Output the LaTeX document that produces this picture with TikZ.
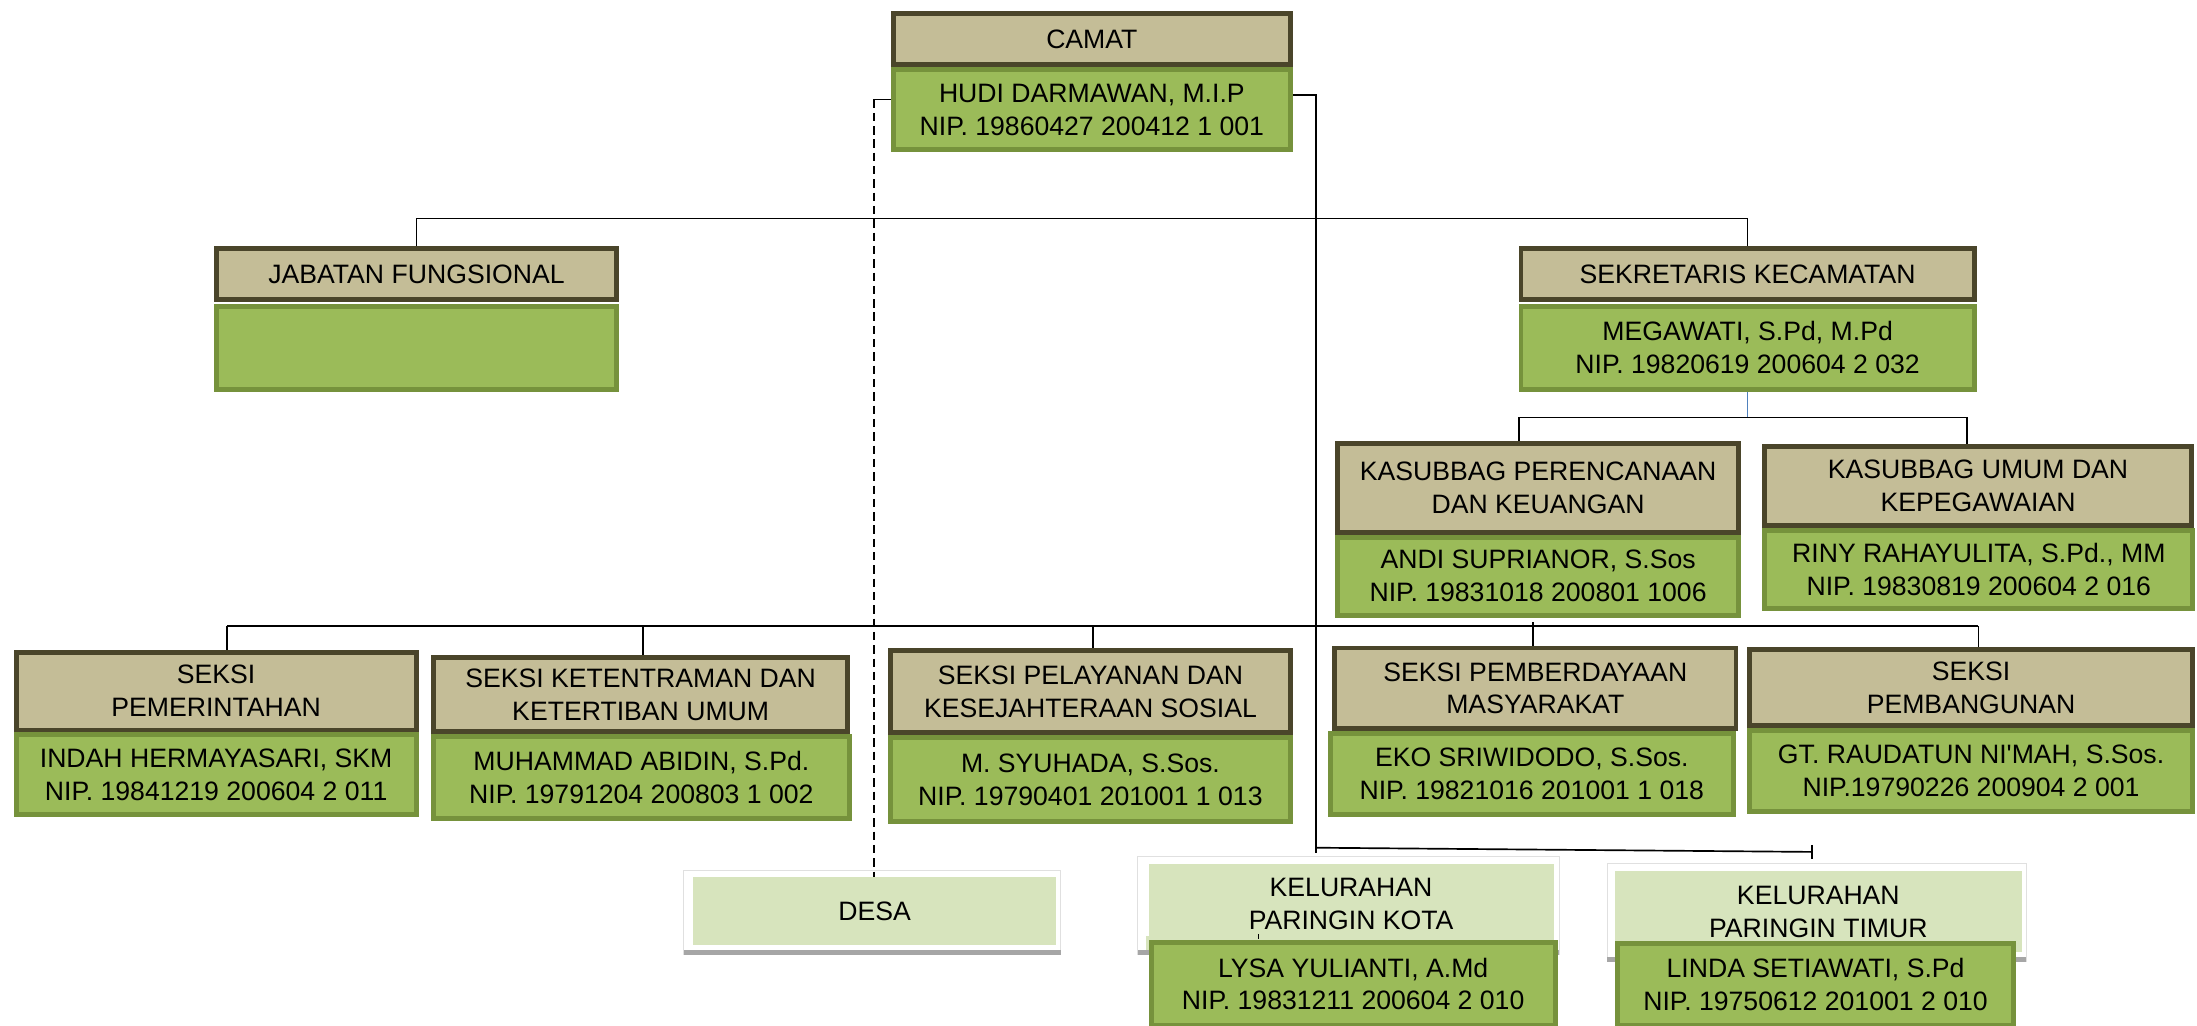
\documentclass[tikz,border=0pt]{standalone}
\usepackage{fontspec}
\setmainfont{Liberation Sans}
\usetikzlibrary{calc}
\definecolor{tanf}{HTML}{C4BD97}
\definecolor{tanb}{HTML}{4A452A}
\definecolor{grnf}{HTML}{9BBB59}
\definecolor{grnb}{HTML}{76923C}
\definecolor{lgrn}{HTML}{D7E4BD}
\definecolor{shad}{HTML}{A6A6A6}
\definecolor{bluel}{HTML}{4F81BD}
\newcommand\orgbox[7]{%
  \node[#2, anchor=north west, minimum width={(#5-#3-3.5)*1pt}, minimum height={(#6-#4-3.5)*1pt}] (#1) at ({#3+1.75},{#4+1.75}) {#7};}
\tikzset{
  base/.style={line width=3.5pt, inner sep=0pt, align=center, font=\fontsize{19}{23.5}\selectfont},
  tanbox/.style={base, fill=tanf, draw=tanb},
  grnbox/.style={base, fill=grnf, draw=grnb},
  lgtbox/.style={base, fill=lgrn, draw=lgrn},
  conn/.style={line width=1.2pt, draw=black},
  dconn/.style={conn, dash pattern=on 6pt off 3.5pt},
}
\begin{document}
\begin{tikzpicture}[x=1pt,y=-1pt]
\useasboundingbox (0,0) rectangle (1568,732);
\fill[white] (0,0) rectangle (1568,732);
% shadows of light boxes
\draw[black!12, line width=0.6pt] (488,621) rectangle (757,681);
\fill[shad] (488,678) rectangle (757,681.5);
\draw[black!12, line width=0.6pt] (812,611) rectangle (1113,681);
\fill[shad] (812,678) rectangle (1113,681.5);
\fill[lgrn] (818,668) rectangle (1107,678);
\draw[black!12, line width=0.6pt] (1147,616) rectangle (1446,686);
\fill[shad] (1147,683) rectangle (1446,686.5);
% boxes
\orgbox{camat}{tanbox}{634}{6}{921}{46}{CAMAT}
\orgbox{hudi}{grnbox}{634}{46}{921}{107}{HUDI DARMAWAN, M.I.P\\NIP. 19860427 200412 1 001}
\orgbox{jab}{tanbox}{151}{174}{440}{214}{JABATAN FUNGSIONAL}
\orgbox{jabg}{grnbox}{151}{215}{440}{278}{}
\orgbox{sek}{tanbox}{1082}{174}{1409}{214}{SEKRETARIS KECAMATAN}
\orgbox{sekg}{grnbox}{1082}{215}{1409}{278}{MEGAWATI, S.Pd, M.Pd\\NIP. 19820619 200604 2 032}
\orgbox{kp}{tanbox}{951}{313}{1241}{380}{KASUBBAG PERENCANAAN\\DAN KEUANGAN}
\orgbox{kpg}{grnbox}{951}{380}{1241}{439}{ANDI SUPRIANOR, S.Sos\\NIP. 19831018 200801 1006}
\orgbox{ku}{tanbox}{1256}{315}{1564}{375}{KASUBBAG UMUM DAN\\KEPEGAWAIAN}
\orgbox{kug}{grnbox}{1256}{375}{1565}{434}{RINY RAHAYULITA, S.Pd., MM\\NIP. 19830819 200604 2 016}
\orgbox{sa}{tanbox}{8}{462}{297}{521}{SEKSI\\PEMERINTAHAN}
\orgbox{sag}{grnbox}{8}{521}{297}{581}{INDAH HERMAYASARI, SKM\\NIP. 19841219 200604 2 011}
\orgbox{sb}{tanbox}{306}{466}{605}{522}{SEKSI KETENTRAMAN DAN\\KETERTIBAN UMUM}
\orgbox{sbg}{grnbox}{306}{522}{606}{584}{MUHAMMAD ABIDIN, S.Pd.\\NIP. 19791204 200803 1 002}
\orgbox{sc}{tanbox}{632}{461}{921}{523}{SEKSI PELAYANAN DAN\\KESEJAHTERAAN SOSIAL}
\orgbox{scg}{grnbox}{632}{523}{921}{586}{M. SYUHADA, S.Sos.\\NIP. 19790401 201001 1 013}
\orgbox{sd}{tanbox}{949}{459}{1239}{520}{SEKSI PEMBERDAYAAN\\MASYARAKAT}
\orgbox{sdg}{grnbox}{946}{520}{1237}{581}{EKO SRIWIDODO, S.Sos.\\NIP. 19821016 201001 1 018}
\orgbox{se}{tanbox}{1245}{460}{1565}{518}{SEKSI\\PEMBANGUNAN}
\orgbox{seg}{grnbox}{1245}{518}{1565}{579}{GT. RAUDATUN NI\textquotesingle MAH, S.Sos.\\NIP.19790226 200904 2 001}
\orgbox{desa}{lgtbox}{493}{624}{752}{673}{DESA}
\orgbox{kota}{lgtbox}{818}{615}{1107}{672}{KELURAHAN\\PARINGIN KOTA}
\orgbox{timur}{lgtbox}{1151}{620}{1441}{678}{KELURAHAN\\PARINGIN TIMUR}
\draw[conn, line width=0.8pt] (898,666.5) -- (898,670);
\orgbox{lysa}{grnbox}{818}{669}{1110}{732}{LYSA YULIANTI, A.Md\\NIP. 19831211 200604 2 010}
\orgbox{linda}{grnbox}{1151}{670}{1437}{732}{LINDA SETIAWATI, S.Pd\\NIP. 19750612 201001 2 010}
% levels
\coordinate (ytop) at (0,156);
\coordinate (ysek) at (0,298);
\coordinate (yseksi) at (0,447);
\coordinate (ykel) at (0,605);
\coordinate (dl) at (624,71);
\coordinate (dr) at (939,68);
\coordinate (kpc) at (1084,298);
\coordinate (kuc) at (1404,298);
\coordinate (c1) at (162,447);
\coordinate (c2) at (459,447);
\coordinate (c3) at (780,447);
\coordinate (c4) at (1094,444);
\coordinate (c5) at (1412,447);
\coordinate (kt) at (1293,608);
% connectors
\draw[conn] (jab.north) -- (jab.north |- ytop) -- (sek.north |- ytop) -- (sek.north);
\draw[conn, draw=bluel] (sekg.south) -- (sekg.south |- ysek);
\draw[conn] (kpc |- kp.north) -- (kpc) -- (kuc) -- (kuc |- ku.north);
\draw[conn, line width=1.6pt] (c1) -- (c5);
\draw[conn] (c1) -- (c1 |- sa.north);
\draw[conn] (c2) -- (c2 |- sb.north);
\draw[conn] (c3) -- (c3 |- sc.north);
\draw[conn] (c4) -- (c4 |- sd.north);
\draw[conn] (c5) -- (c5 |- se.north);
\draw[conn] (hudi.west |- dl) -- (dl);
\draw[dconn] (dl) -- (dl |- desa.north);
\draw[conn] (hudi.east |- dr) -- (dr) -- ($(dr |- ykel)+(0,4)$);
\draw[conn] (dr |- ykel) -- (kt);
\draw[conn] ($(kt)+(0,-5)$) -- ($(kt)+(0,5)$);
\end{tikzpicture}
\end{document}
